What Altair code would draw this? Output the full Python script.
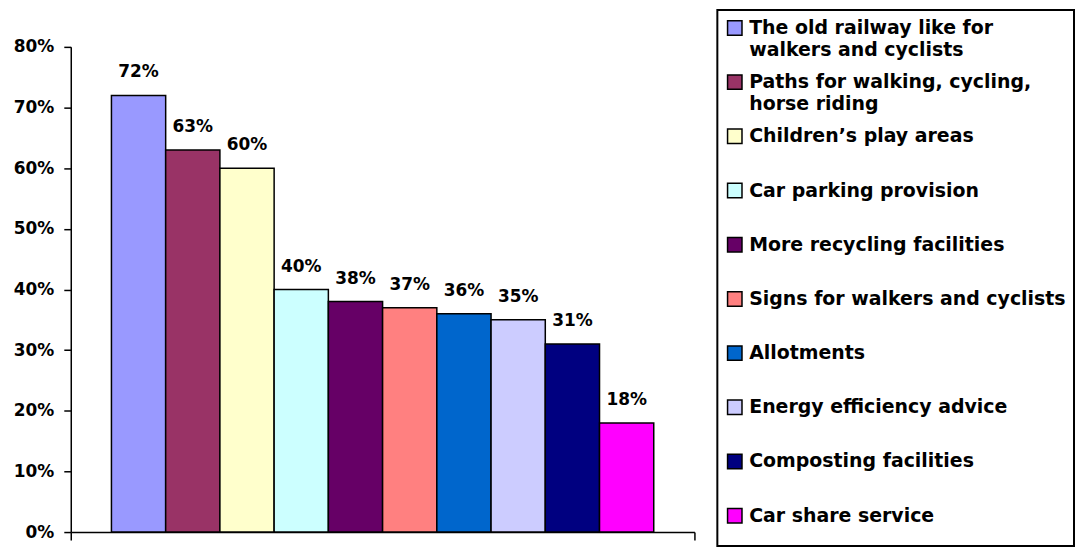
import altair as alt
import pandas as pd

items = [
    "The old railway like for\nwalkers and cyclists",
    "Paths for walking, cycling,\nhorse riding",
    "Children’s play areas",
    "Car parking provision",
    "More recycling facilities",
    "Signs for walkers and cyclists",
    "Allotments",
    "Energy efficiency advice",
    "Composting facilities",
    "Car share service",
]
values = [0.72, 0.63, 0.60, 0.40, 0.38, 0.37, 0.36, 0.35, 0.31, 0.18]
colors = ["#9999FF", "#993366", "#FFFFCC", "#CCFFFF", "#660066",
          "#FF8080", "#0066CC", "#CCCCFF", "#000080", "#FF00FF"]
y_ticks = [0, 0.1, 0.2, 0.3, 0.4, 0.5, 0.6, 0.7, 0.8]

FONT = "DejaVu Sans"

keys = [s.replace("\n", " ") for s in items]
line1 = [s.split("\n")[0] for s in items]
line2 = [s.split("\n")[1] if "\n" in s else "" for s in items]

df = pd.DataFrame({"item": keys, "value": values, "group": ["all"] * len(keys),
                   "line1": line1, "line2": line2})

color_enc = alt.Color("item:N", scale=alt.Scale(domain=keys, range=colors), legend=None)

x_enc = alt.X(
    "group:N", title=None,
    scale=alt.Scale(paddingInner=0, paddingOuter=0),
    axis=alt.Axis(labels=False, ticks=True, tickBand="extent", tickSize=8,
                  tickColor="black", tickWidth=1.5, domainColor="black",
                  domainWidth=1.5, title=None),
)
xoff = alt.XOffset("item:N", sort=keys, scale=alt.Scale(paddingInner=0, paddingOuter=0.75))
y_enc = alt.Y(
    "value:Q",
    scale=alt.Scale(domain=[0, 0.8], nice=False),
    axis=alt.Axis(values=y_ticks, format=".0%", grid=False, tickSize=7, labelPadding=10,
                  labelFont=FONT, labelFontSize=17, labelFontWeight="bold",
                  labelColor="black", domainColor="black", domainWidth=1.5,
                  tickColor="black", tickWidth=1.5, title=None),
)

bars = alt.Chart(df).mark_bar(stroke="black", strokeWidth=1.5).encode(
    x=x_enc, xOffset=xoff, y=y_enc, color=color_enc
)
labels = alt.Chart(df).mark_text(
    baseline="bottom", dy=-14, font=FONT, fontSize=17, fontWeight="bold", color="black"
).encode(x=x_enc, xOffset=xoff, y=y_enc, text=alt.Text("value:Q", format=".0%"))

bar_chart = alt.layer(bars, labels).properties(width=626, height=487)

spacer = alt.Chart(df).mark_point(opacity=0, size=1).encode(
    x=alt.value(5), y=alt.value(5)
).properties(width=10, height=10)

left = alt.vconcat(spacer, bar_chart, spacing=16)

yl = alt.Y("item:N", sort=keys, axis=None,
           scale=alt.Scale(type="point", range=[18, 507.6], padding=0))
sq = alt.Chart(df).mark_square(size=210, stroke="black", strokeWidth=1.5, opacity=1).encode(
    x=alt.value(17.5), y=yl, color=color_enc
)
t1 = alt.Chart(df).mark_text(
    align="left", baseline="middle", font=FONT, fontSize=19, fontWeight="bold", color="black"
).encode(x=alt.value(32), y=yl, text="line1:N")
t2 = alt.Chart(df).mark_text(
    align="left", baseline="middle", dy=22, font=FONT, fontSize=19, fontWeight="bold", color="black"
).encode(x=alt.value(32), y=yl, text="line2:N")

right = alt.layer(sq, t1, t2).properties(
    width=358, height=538,
    view=alt.ViewBackground(stroke="black", strokeWidth=2),
)

chart = alt.hconcat(left, right, spacing=20).properties(
    padding={"left": 4, "top": 0, "right": 0, "bottom": 0}
).configure_view(stroke="transparent")

chart.save("out.html", embed_options={"renderer": "svg", "actions": False})
